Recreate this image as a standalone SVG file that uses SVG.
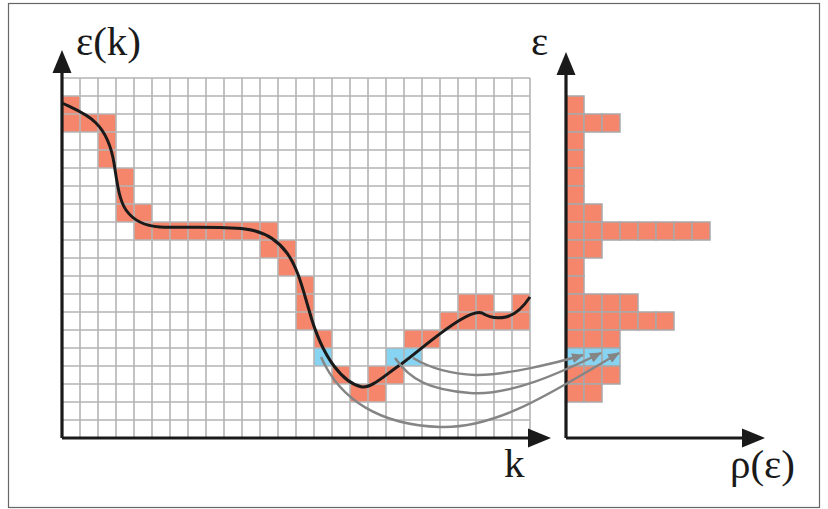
<svg xmlns="http://www.w3.org/2000/svg" width="828" height="509" viewBox="0 0 828 509">
<defs>
<style>
.or{fill:#F5866B}
.bl{fill:#87D3F2}
.grid{fill:none;stroke:#B4B4B4;stroke-width:1.6}
.h rect{stroke:#A8A8A8;stroke-width:1.5}
.axis{fill:none;stroke:#1A1A1A;stroke-width:3.2}
.curve{fill:none;stroke:#1A1A1A;stroke-width:3}
.conn{fill:none;stroke:#858585;stroke-width:2.4;marker-end:url(#ga)}
.lbl{font-family:'Liberation Serif','Times New Roman',serif;font-size:41px;fill:#1A1A1A}
</style>
<marker id="ga" viewBox="0 0 12 10" refX="11" refY="5" markerWidth="12" markerHeight="10" markerUnits="userSpaceOnUse" orient="auto">
<path d="M0,0 L12,5 L0,10 Z" fill="#858585"/>
</marker>
</defs>
<rect x="8.5" y="3.5" width="811" height="504" fill="#FFFFFF" stroke="#666666" stroke-width="1.2"/>

<g id="cells">
<rect class="or" x="62" y="96" width="18" height="18"/>
<rect class="or" x="62" y="114" width="54" height="18"/>
<rect class="or" x="98" y="132" width="18" height="36"/>
<rect class="or" x="116" y="168" width="18" height="54"/>
<rect class="or" x="134" y="204" width="18" height="18"/>
<rect class="or" x="134" y="222" width="144" height="18"/>
<rect class="or" x="260" y="240" width="36" height="18"/>
<rect class="or" x="278" y="258" width="18" height="18"/>
<rect class="or" x="296" y="276" width="18" height="54"/>
<rect class="or" x="458" y="294" width="36" height="18"/>
<rect class="or" x="512" y="294" width="18" height="18"/>
<rect class="or" x="440" y="312" width="90" height="18"/>
<rect class="or" x="314" y="330" width="18" height="18"/>
<rect class="or" x="404" y="330" width="36" height="18"/>
<rect class="bl" x="314" y="348" width="18" height="18"/>
<rect class="bl" x="386" y="348" width="36" height="18"/>
<rect class="or" x="332" y="366" width="18" height="18"/>
<rect class="or" x="368" y="366" width="36" height="18"/>
<rect class="or" x="350" y="384" width="36" height="18"/>
</g>

<g id="grid">
<path class="grid" d="M62 78V438M80 78V438M98 78V438M116 78V438M134 78V438M152 78V438M170 78V438M188 78V438M206 78V438M224 78V438M242 78V438M260 78V438M278 78V438M296 78V438M314 78V438M332 78V438M350 78V438M368 78V438M386 78V438M404 78V438M422 78V438M440 78V438M458 78V438M476 78V438M494 78V438M512 78V438M530 78V438M62 78H530M62 96H530M62 114H530M62 132H530M62 150H530M62 168H530M62 186H530M62 204H530M62 222H530M62 240H530M62 258H530M62 276H530M62 294H530M62 312H530M62 330H530M62 348H530M62 366H530M62 384H530M62 402H530M62 420H530M62 438H530"/>
</g>

<g id="histogram" class="h">
<rect class="or" x="566" y="96" width="18" height="18"/>
<rect class="or" x="566" y="114" width="18" height="18"/><rect class="or" x="584" y="114" width="18" height="18"/><rect class="or" x="602" y="114" width="18" height="18"/>
<rect class="or" x="566" y="132" width="18" height="18"/>
<rect class="or" x="566" y="150" width="18" height="18"/>
<rect class="or" x="566" y="168" width="18" height="18"/>
<rect class="or" x="566" y="186" width="18" height="18"/>
<rect class="or" x="566" y="204" width="18" height="18"/><rect class="or" x="584" y="204" width="18" height="18"/>
<rect class="or" x="566" y="222" width="18" height="18"/><rect class="or" x="584" y="222" width="18" height="18"/><rect class="or" x="602" y="222" width="18" height="18"/><rect class="or" x="620" y="222" width="18" height="18"/><rect class="or" x="638" y="222" width="18" height="18"/><rect class="or" x="656" y="222" width="18" height="18"/><rect class="or" x="674" y="222" width="18" height="18"/><rect class="or" x="692" y="222" width="18" height="18"/>
<rect class="or" x="566" y="240" width="18" height="18"/><rect class="or" x="584" y="240" width="18" height="18"/>
<rect class="or" x="566" y="258" width="18" height="18"/>
<rect class="or" x="566" y="276" width="18" height="18"/>
<rect class="or" x="566" y="294" width="18" height="18"/><rect class="or" x="584" y="294" width="18" height="18"/><rect class="or" x="602" y="294" width="18" height="18"/><rect class="or" x="620" y="294" width="18" height="18"/>
<rect class="or" x="566" y="312" width="18" height="18"/><rect class="or" x="584" y="312" width="18" height="18"/><rect class="or" x="602" y="312" width="18" height="18"/><rect class="or" x="620" y="312" width="18" height="18"/><rect class="or" x="638" y="312" width="18" height="18"/><rect class="or" x="656" y="312" width="18" height="18"/>
<rect class="or" x="566" y="330" width="18" height="18"/><rect class="or" x="584" y="330" width="18" height="18"/><rect class="or" x="602" y="330" width="18" height="18"/>
<rect class="bl" x="566" y="348" width="18" height="18"/><rect class="bl" x="584" y="348" width="18" height="18"/><rect class="bl" x="602" y="348" width="18" height="18"/>
<rect class="or" x="566" y="366" width="18" height="18"/><rect class="or" x="584" y="366" width="18" height="18"/><rect class="or" x="602" y="366" width="18" height="18"/>
<rect class="or" x="566" y="384" width="18" height="18"/><rect class="or" x="584" y="384" width="18" height="18"/>
</g>

<g id="dispersion">
<path class="curve" d="M62,103 C72,108 86,113 96,123 C106,133 111,145 114,163 C117,182 119,200 126,210 C133,220 143,226 160,227 C185,228 220,226 245,229 C262,231 276,238 287,253 C298,268 303,290 309,310 C315,332 322,350 334,366 C343,378 352,385 362,387 C372,388 385,375 400,365 C420,350 440,332 460,320 C470,314 477,311 482,313 C490,318 497,319 506,317 C515,315 524,306 530,297"/>
</g>

<g id="axes">
<path class="axis" d="M62,438 V68 M62,438 H534"/>
<path d="M62,50 L52.5,73 L71.5,73 Z" fill="#1A1A1A"/>
<path d="M551,438 L528,428.5 L528,447.5 Z" fill="#1A1A1A"/>
<path class="axis" d="M566,438 V70 M566,438 H748"/>
<path d="M566,52 L556.5,75 L575.5,75 Z" fill="#1A1A1A"/>
<path d="M765,438 L742,428.5 L742,447.5 Z" fill="#1A1A1A"/>
</g>

<g id="connectors">
<path class="conn" d="M321,357 C340,400 380,425 440,427 S 560,387 619,353"/>
<path class="conn" d="M395,358 C410,380 430,390 470,393 S 560,373 601,353"/>
<path class="conn" d="M413,358 C430,368 450,374 475,375 S 555,363.5 583,355"/>
</g>

<g id="labels">
<text class="lbl" x="76" y="55">ε(k)</text>
<text class="lbl" x="531" y="55">ε</text>
<text class="lbl" x="504" y="477">k</text>
<text class="lbl" x="730" y="478">ρ(ε)</text>
</g>
</svg>
